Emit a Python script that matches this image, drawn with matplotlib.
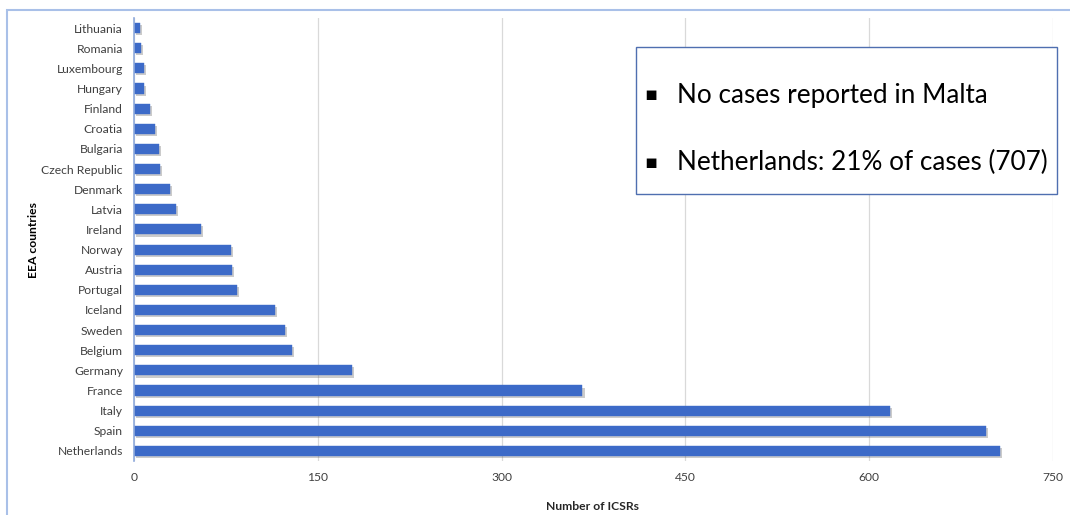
import matplotlib.pyplot as plt
import matplotlib.patheffects as pe
from matplotlib.patches import Rectangle
import numpy as np

# ICSRs per EEA country (bottom of the chart first)
countries = ['Netherlands', 'Spain', 'Italy', 'France', 'Germany', 'Belgium',
             'Sweden', 'Iceland', 'Portugal', 'Austria', 'Norway', 'Ireland',
             'Latvia', 'Denmark', 'Czech Republic', 'Bulgaria', 'Croatia',
             'Finland', 'Hungary', 'Luxembourg', 'Romania', 'Lithuania']
icsrs = [707, 695, 617, 366, 178, 129, 123, 115, 84, 80, 79, 55,
         34, 29, 21, 20, 17, 13, 8, 8, 6, 5]
x_ticks = [0, 150, 300, 450, 600, 750]
notes = ['No cases reported in Malta', 'Netherlands: 21% of cases (707)']

plt.rcParams['font.family'] = ['Lato', 'DejaVu Sans']
text_col = '#404040'

fig = plt.figure(figsize=(10.7, 5.15), dpi=100)

# light blue frame round the chart area
fig.patches.append(Rectangle((7 / 1070, -0.01), 1.0, (515 - 10) / 515 + 0.01,
                             transform=fig.transFigure, fill=False,
                             edgecolor='#A9C0E8', linewidth=1.5))

ax = fig.add_axes([134 / 1070, 54 / 515, 919 / 1070, 443 / 515])
y = np.arange(len(countries))
ax.barh(y, icsrs, height=0.5, color='#3C6AC8', edgecolor='#3C6AC8', linewidth=0.3,
        path_effects=[pe.SimplePatchShadow(offset=(1.5, -1.5), shadow_rgbFace='#555555',
                                           alpha=0.3), pe.Normal()],
        zorder=3)

ax.set_xlim(0, 750)
ax.set_ylim(-0.5, len(countries) - 0.5)
ax.set_yticks(y)
ax.set_yticklabels(countries, fontsize=8.7, color=text_col)
ax.set_xticks(x_ticks)
ax.set_xticklabels([str(t) for t in x_ticks], fontsize=8.7, color=text_col)
ax.tick_params(axis='both', length=0)
ax.tick_params(axis='y', pad=8)
ax.tick_params(axis='x', pad=8)
ax.xaxis.grid(True, color='#D9D9D9', linewidth=0.9, zorder=0)
ax.set_axisbelow(True)
for side in ['top', 'right', 'bottom']:
    ax.spines[side].set_visible(False)
ax.spines['left'].set_color('#8FAADC')
ax.spines['left'].set_linewidth(1.2)
ax.spines['left'].set_zorder(4)

ax.set_xlabel('Number of ICSRs', fontsize=8.7, fontweight='bold', color='#262626')
ax.xaxis.set_label_coords((592 - 134) / 919, -(501 - 461) / 443)
ax.set_ylabel('EEA countries', fontsize=8.7, fontweight='bold', color='black')
ax.yaxis.set_label_coords(-(134 - 39) / 919, (461 - 240) / 443)

# note box with two bullet points
fig.patches.append(Rectangle((636 / 1070, 1 - 194 / 515), 421 / 1070, 147 / 515,
                             transform=fig.transFigure, facecolor='white',
                             edgecolor='#4F6FB0', linewidth=1.0, zorder=5))
for yy, note in zip([95, 162], notes):
    fig.text(651 / 1070, 1 - yy / 515, '\u25aa', fontsize=14, va='center', ha='center',
             family='DejaVu Sans', zorder=6)
    fig.text(677 / 1070, 1 - yy / 515, note, fontsize=18.8, va='center', ha='left',
             color='black', zorder=6)

fig.savefig('out.png', dpi=100)
